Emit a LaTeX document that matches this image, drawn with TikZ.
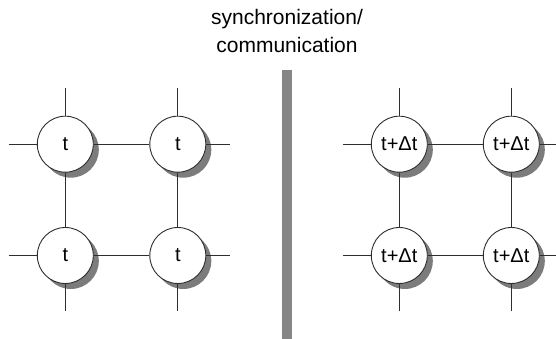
\documentclass[tikz,border=0pt]{standalone}
\usepackage{fontspec}
\setmainfont{Liberation Sans}
\usetikzlibrary{shadows}
\definecolor{linegray}{HTML}{2E2E2E}
\definecolor{shadegray}{HTML}{7C7C7C}
\definecolor{bargray}{HTML}{868686}
\tikzset{
  cell/.style={circle, draw=linegray, line width=0.9pt, fill=white,
    minimum size=56pt, inner sep=0pt,
    font=\fontsize{20}{24}\selectfont,
    drop shadow={shadow xshift=5.5pt, shadow yshift=-5.5pt,
      fill=shadegray, opacity=1}},
  link/.style={draw=linegray, line width=0.9pt},
  caption/.style={anchor=base, inner sep=0pt,
    font=\fontsize{21}{25}\selectfont}
}
\begin{document}
\begin{tikzpicture}[x=1pt, y=1pt]
  \useasboundingbox (0,0) rectangle (556,339);
  \fill[white] (0,0) rectangle (556,339);

  % separating bar
  \fill[bargray] (281.5,0) rectangle (291.5,269);

  % caption above the bar
  \node[caption] (cap1) at (287,314) {synchronization/};
  \node[caption] (cap2) at (287,286) {communication};

  % left grid: all cells at time t
  \node[cell] (l11) at (65.3,194.8) {t};
  \node[cell] (l12) at (177.8,194.8) {t};
  \node[cell] (l21) at (65.3,83.5) {t};
  \node[cell] (l22) at (177.8,83.5) {t};

  % right grid: all cells at time t+dt
  \node[cell] (r11) at (399.3,194.8) {t+Δt};
  \node[cell] (r12) at (511.3,194.8) {t+Δt};
  \node[cell] (r21) at (399.3,83.5) {t+Δt};
  \node[cell] (r22) at (511.3,83.5) {t+Δt};

  % free ends of the links leaving each grid
  \coordinate (lw1) at (9,194.8);   \coordinate (lw2) at (9,83.5);
  \coordinate (le1) at (230,194.8); \coordinate (le2) at (230,83.5);
  \coordinate (ln1) at (65.3,251);  \coordinate (ln2) at (177.8,251);
  \coordinate (ls1) at (65.3,28);   \coordinate (ls2) at (177.8,28);

  \coordinate (rw1) at (343,194.8); \coordinate (rw2) at (343,83.5);
  \coordinate (re1) at (556,194.8); \coordinate (re2) at (556,83.5);
  \coordinate (rn1) at (399.3,251); \coordinate (rn2) at (511.3,251);
  \coordinate (rs1) at (399.3,28);  \coordinate (rs2) at (511.3,28);

  % links of the left grid
  \draw[link] (l11) -- (l12);  \draw[link] (l21) -- (l22);
  \draw[link] (l11) -- (l21);  \draw[link] (l12) -- (l22);
  \draw[link] (lw1) -- (l11);  \draw[link] (lw2) -- (l21);
  \draw[link] (l12) -- (le1);  \draw[link] (l22) -- (le2);
  \draw[link] (ln1) -- (l11);  \draw[link] (ln2) -- (l12);
  \draw[link] (l21) -- (ls1);  \draw[link] (l22) -- (ls2);

  % links of the right grid
  \draw[link] (r11) -- (r12);  \draw[link] (r21) -- (r22);
  \draw[link] (r11) -- (r21);  \draw[link] (r12) -- (r22);
  \draw[link] (rw1) -- (r11);  \draw[link] (rw2) -- (r21);
  \draw[link] (r12) -- (re1);  \draw[link] (r22) -- (re2);
  \draw[link] (rn1) -- (r11);  \draw[link] (rn2) -- (r12);
  \draw[link] (r21) -- (rs1);  \draw[link] (r22) -- (rs2);
\end{tikzpicture}
\end{document}
